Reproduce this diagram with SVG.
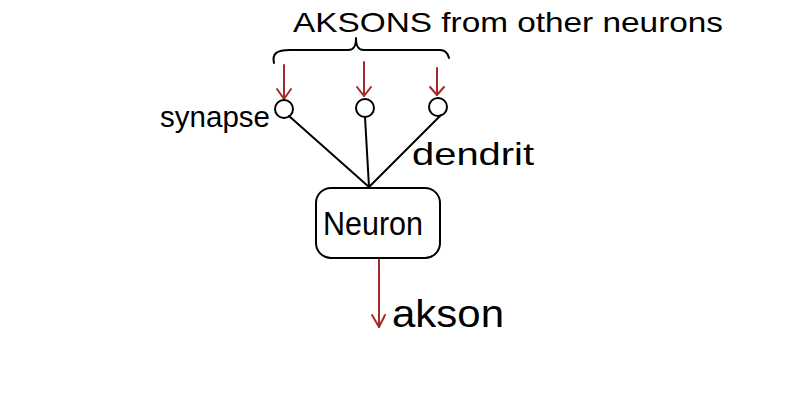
<svg xmlns="http://www.w3.org/2000/svg" width="800" height="400" viewBox="0 0 800 400">
<style>
.t{font-family:"Liberation Sans","DejaVu Sans",sans-serif;fill:#000}
.k{stroke:#000;stroke-width:2;fill:none;stroke-linecap:round;stroke-linejoin:round}
.r{stroke:#a52a2a;stroke-width:2;fill:none;stroke-linecap:round;stroke-linejoin:round}
</style>
<rect width="800" height="400" fill="#fff"/>
<g id="title">
<text class="t" x="293" y="32" font-size="28" textLength="430" lengthAdjust="spacingAndGlyphs">AKSONS from other neurons</text>
<path class="k" d="M274,63 C272,54 276,50 290,50 L348,50 C354,50 356,46 356,38 C356,46 358,50 364,50 L440,50 C446,50 448,54 449,58"/>
</g>
<g id="connectors">
<line class="r" x1="284" y1="65" x2="284" y2="99"/>
<path class="r" d="M277,89 L284,99 L291,89"/>
<line class="r" x1="364" y1="62" x2="364" y2="96"/>
<path class="r" d="M357,87 L364,96 L371,87"/>
<line class="r" x1="437" y1="68" x2="437" y2="95"/>
<path class="r" d="M430,87 L437,95 L444,87"/>
<line class="k" x1="289" y1="116" x2="369" y2="187"/>
<line class="k" x1="365" y1="117" x2="369" y2="187"/>
<line class="k" x1="441" y1="115" x2="369" y2="187"/>
<line class="r" x1="379" y1="258" x2="379" y2="327"/>
<path class="r" d="M372,315 L379,327 L385,315"/>
</g>
<g id="synapse1"><circle class="k" cx="284" cy="109" r="9"/></g>
<g id="synapse2"><circle class="k" cx="365" cy="108" r="9"/></g>
<g id="synapse3"><circle class="k" cx="438" cy="107" r="9"/></g>
<g id="neuron">
<rect class="k" x="316" y="188" width="124" height="70" rx="15"/>
<text class="t" x="323" y="235" font-size="34" textLength="100" lengthAdjust="spacingAndGlyphs">Neuron</text>
</g>
<g id="labels">
<text class="t" x="160" y="127" font-size="30" textLength="110" lengthAdjust="spacingAndGlyphs">synapse</text>
<text class="t" x="412" y="165" font-size="32" textLength="122" lengthAdjust="spacingAndGlyphs">dendrit</text>
<text class="t" x="392" y="327" font-size="38" textLength="112" lengthAdjust="spacingAndGlyphs">akson</text>
</g>
</svg>
